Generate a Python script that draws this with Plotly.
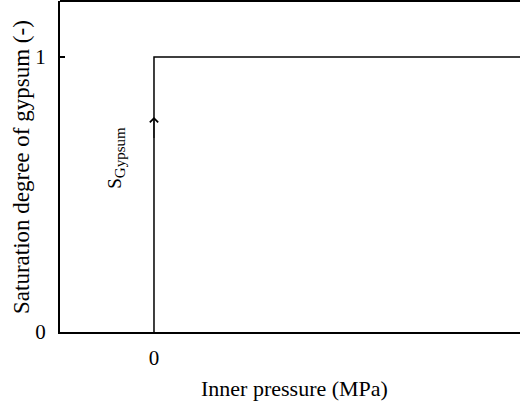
import plotly.graph_objects as go

# Data
pressure = [0, 0, 3.9]
saturation = [0, 1, 1]
y_ticks = [0, 1]
y_ticklabels = ["0", "1"]
x_ticks = [0]
x_ticklabels = ["0"]

font_family = "Liberation Serif"

W, H = 520, 408
L, R, T, B = 60, 0, 1, 76
plot_w = W - L - R
plot_h = H - T - B


def px_to_paper(px, py):
    return (px - L) / plot_w, (H - B - py) / plot_h


fig = go.Figure()
fig.add_trace(go.Scatter(
    x=pressure, y=saturation, mode="lines",
    line=dict(color="black", width=1.5),
    hoverinfo="skip", showlegend=False,
))

# Arrow on vertical line
fig.add_annotation(
    x=0, y=0.782, ax=0, ay=0.70, xref="x", yref="y", axref="x", ayref="y",
    showarrow=True, arrowhead=4, arrowsize=1.6, arrowwidth=1.0, arrowcolor="black",
    text="",
)
# S_Gypsum label
fig.add_annotation(
    x=-0.40, y=0.635, xref="x", yref="y", showarrow=False,
    text="S<sub><span style='font-size:15px'>Gypsum</span></sub>", textangle=-90,
    font=dict(family=font_family, size=19, color="black"),
)
# x-axis title
xt, yt = px_to_paper(294, 388)
fig.add_annotation(
    x=xt, y=yt, xref="paper", yref="paper", showarrow=False,
    xanchor="center", yanchor="middle",
    text="Inner pressure (MPa)",
    font=dict(family=font_family, size=22, color="black"),
)
# y-axis title
xt, yt = px_to_paper(21, 167)
fig.add_annotation(
    x=xt, y=yt, xref="paper", yref="paper", showarrow=False,
    xanchor="center", yanchor="middle", textangle=-90,
    text="Saturation degree of gypsum (-)",
    font=dict(family=font_family, size=23, color="black"),
)

fig.update_layout(
    width=W, height=H,
    margin=dict(l=L, r=R, t=T, b=B, autoexpand=False),
    paper_bgcolor="white", plot_bgcolor="white",
    font=dict(family=font_family, size=21, color="black"),
    xaxis=dict(
        range=[-1, 3.894], showgrid=False, zeroline=False,
        showline=True, linecolor="black", linewidth=2,
        tickvals=x_ticks, ticktext=x_ticklabels, ticks="", ticklabelstandoff=6,
    ),
    yaxis=dict(
        range=[0, 1.2036], showgrid=False, zeroline=False,
        showline=True, linecolor="black", linewidth=2,
        tickvals=y_ticks, ticktext=y_ticklabels, ticks="inside", ticklen=5,
        tickcolor="black", tickwidth=2, ticklabelstandoff=8,
    ),
    shapes=[dict(type="line", xref="paper", yref="paper", x0=0, x1=1, y0=1, y1=1,
                 line=dict(color="black", width=2))],
)

fig.write_html("out.html", post_script="document.body.style.margin='0';",
               config={"displayModeBar": False})
